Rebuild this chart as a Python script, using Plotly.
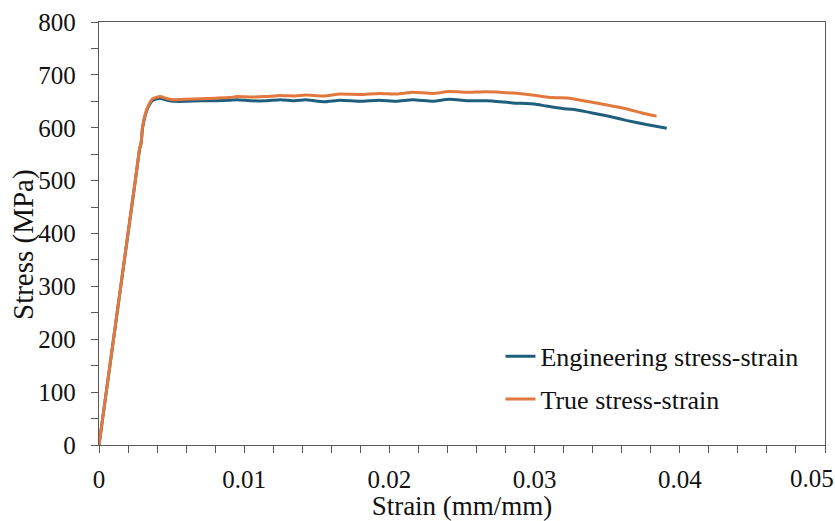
import plotly.graph_objects as go

# Engineering stress-strain
eng_strain = [0, 0.0005, 0.001, 0.0015, 0.002, 0.0024, 0.0026, 0.0028, 0.0029, 0.003,
              0.0032, 0.0034, 0.0037, 0.0042, 0.0047, 0.0052, 0.006, 0.007, 0.008, 0.009,
              0.0095, 0.0105, 0.0115, 0.0125, 0.0135, 0.0142, 0.0155, 0.0166, 0.018, 0.0193,
              0.0205, 0.0216, 0.023, 0.0241, 0.0255, 0.0267, 0.0285, 0.030, 0.0308, 0.032,
              0.0326, 0.0336, 0.0345, 0.0354, 0.0363, 0.0377, 0.0391]
eng_stress = [0, 100, 200, 300, 400, 480, 520, 560, 570, 600,
              625, 640, 652, 656, 652, 650, 650, 651, 651, 652,
              653, 651, 651, 653, 651, 653, 649, 652, 650, 652,
              650, 653, 650, 654, 651, 651, 647, 645, 641, 636,
              635, 630, 625, 620, 614, 606, 599]

# True stress-strain
true_strain = [0, 0.0005, 0.001, 0.0015, 0.002, 0.0024, 0.0026, 0.0028, 0.0029, 0.003,
               0.0032, 0.0034, 0.0037, 0.0042, 0.0047, 0.0052, 0.006, 0.007, 0.008, 0.009,
               0.0095, 0.0105, 0.0115, 0.0125, 0.0135, 0.0142, 0.0155, 0.0166, 0.018, 0.0193,
               0.0205, 0.0216, 0.023, 0.0241, 0.0255, 0.0266, 0.0285, 0.0298, 0.0312, 0.0324,
               0.0336, 0.0349, 0.0363, 0.0374, 0.0384]
true_stress = [0, 100, 200, 301, 401, 481, 521, 562, 572, 602,
               627, 642, 655, 659, 655, 653, 654, 655, 656, 657,
               659, 658, 659, 661, 660, 662, 660, 664, 663, 665,
               664, 667, 665, 668.5, 667, 668, 665.5, 662, 657, 656,
               650, 643.5, 636, 628, 622]

x_ticks = [0, 0.01, 0.02, 0.03, 0.04, 0.05]
x_tick_text = ["0", "0.01", "0.02", "0.03", "0.04", "0.05"]
x_title = "Strain (mm/mm)"
y_title = "Stress (MPa)"

fig = go.Figure()
fig.add_trace(go.Scatter(x=eng_strain, y=eng_stress, mode="lines",
                         name="Engineering stress-strain", legendgroup="a",
                         line=dict(color="#1F5F7D", width=3, shape="spline", smoothing=0.4)))
fig.add_trace(go.Scatter(x=true_strain, y=true_stress, mode="lines",
                         name="True stress-strain", legendgroup="b",
                         line=dict(color="#E2783D", width=3, shape="spline", smoothing=0.4)))

FAM = "Liberation Serif, Times New Roman, serif"
tick_font = dict(family=FAM, size=25, color="#111111")
title_font = dict(family=FAM, size=27, color="#111111")
axis_col = "#595959"

fig.update_layout(
    width=835, height=521,
    margin=dict(l=99, r=9, t=20, b=75),
    paper_bgcolor="white", plot_bgcolor="white",
    font=dict(family=FAM, size=25, color="#111111"),
    showlegend=True,
    legend=dict(x=0.553, y=0.265, xanchor="left", yanchor="top",
                bgcolor="rgba(0,0,0,0)", font=dict(family=FAM, size=26, color="#111111"),
                traceorder="grouped", tracegroupgap=6),
)
fig.update_xaxes(range=[0, 0.05], tickvals=x_ticks[:-1], ticktext=x_tick_text[:-1],
                 showgrid=False, zeroline=False,
                 showline=True, linecolor=axis_col, linewidth=1.3, mirror=True,
                 ticks="outside", ticklen=7, tickcolor=axis_col, ticklabelstandoff=5,
                 minor=dict(dtick=0.002, tick0=0, ticks="outside", ticklen=7, tickcolor=axis_col),
                 title=dict(text=x_title, standoff=0, font=title_font),
                 tickfont=tick_font)
fig.update_yaxes(range=[0, 800], dtick=100, showgrid=False, zeroline=False,
                 showline=True, linecolor=axis_col, linewidth=1.3, mirror=True,
                 ticks="outside", ticklen=7, tickcolor=axis_col, ticklabelstandoff=10,
                 minor=dict(dtick=50, ticks="outside", ticklen=7, tickcolor=axis_col),
                 tickfont=tick_font)

# y-axis title placed as rotated text
fig.add_annotation(x=-0.104, y=0.474, xref="paper", yref="paper", text=y_title,
                   textangle=-90, showarrow=False, xanchor="center", yanchor="middle",
                   font=dict(family=FAM, size=29, color="#111111"))

# last x tick label, pushed left so it stays inside the page
fig.add_annotation(x=x_ticks[-1], y=0, xref="x", yref="paper", text=x_tick_text[-1],
                   showarrow=False, yanchor="middle", xanchor="right", xshift=11, yshift=-33,
                   font=tick_font)

fig.write_html("out.html")
